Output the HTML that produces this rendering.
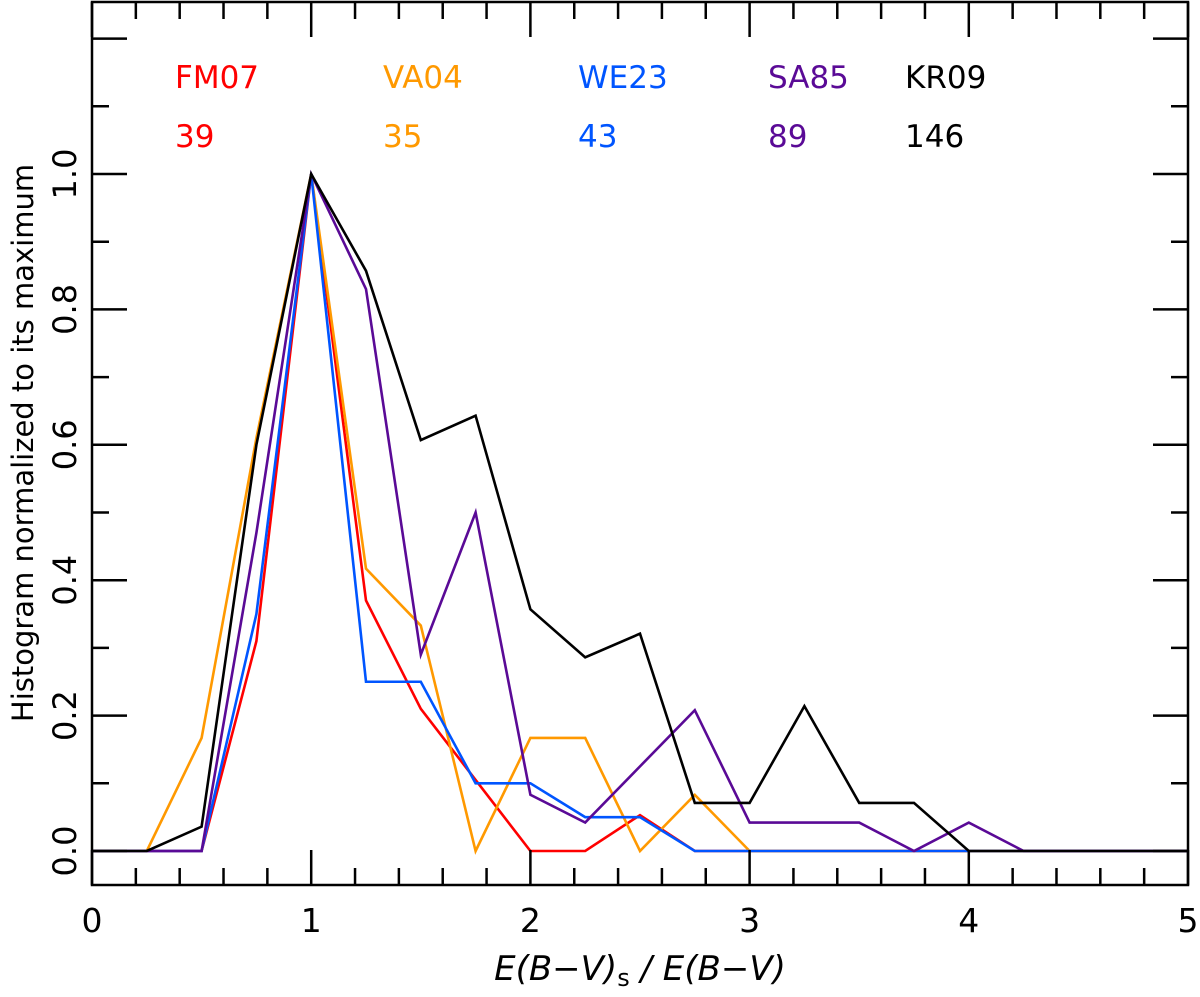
<!DOCTYPE html>
<html><head><meta charset="utf-8"><style>
body{margin:0;background:#fff}
svg{display:block}
text{font-family:"DejaVu Sans","Liberation Sans",sans-serif}
</style></head><body>
<svg id="chart" width="1200" height="997" viewBox="0 0 1200 997"></svg>
<script>
const xs = [0,0.25,0.5,0.75,1,1.25,1.5,1.75,2,2.25,2.5,2.75,3,3.25,3.5,3.75,4,4.25,4.5,4.75,5];
const fm07 = [0,0,0,0.31,1,0.37,0.21,0.105,0,0,0.053,0,0,0,0,0,0,0,0,0,0];
const va04 = [0,0,0.167,0.61,1,0.417,0.333,0,0.167,0.167,0,0.083,0,0,0,0,0,0,0,0,0];
const we23 = [0,0,0,0.35,1,0.25,0.25,0.1,0.1,0.05,0.05,0,0,0,0,0,0,0,0,0,0];
const sa85 = [0,0,0,0.47,1,0.83,0.29,0.5,0.083,0.042,0.125,0.208,0.042,0.042,0.042,0,0.042,0,0,0,0];
const kr09 = [0,0,0.036,0.6,1,0.857,0.607,0.643,0.357,0.286,0.321,0.071,0.071,0.214,0.071,0.071,0,0,0,0,0];
const seriesNames = ["FM07","VA04","WE23","SA85","KR09"];
const seriesCounts = ["39","35","43","89","146"];
const xTickLabels = ["0","1","2","3","4","5"];
const yTickLabels = ["0.0","0.2","0.4","0.6","0.8","1.0"];

const NS="http://www.w3.org/2000/svg";
const svg=document.getElementById('chart');
const L=92,R=1188,T=2,B=885;
const X=v=>L+(v/5)*(R-L);
const Y=v=>851-v*677;
function mk(tag,attrs,parent){const e=document.createElementNS(NS,tag);for(const k in attrs)e.setAttribute(k,attrs[k]);(parent||svg).appendChild(e);return e;}
const colors=["#ff0000","#ff9900","#0055ff","#5a0a96","#000000"];
const data=[fm07,va04,we23,sa85,kr09];
const seriesLayer=mk('g',{});


data.forEach((d,i)=>{
  const p=mk('polyline',{points:d.map((v,j)=>X(xs[j])+','+Y(v)).join(' '),fill:'none',stroke:colors[i],'stroke-width':2.6,'stroke-linejoin':'miter'},seriesLayer);
  
  
});
const ax=mk('g',{stroke:'#000','stroke-width':2.5,fill:'none'});


mk('rect',{x:L,y:T,width:R-L,height:B-T},ax);
for(let i=0;i<=25;i++){const v=i*0.2,x=X(v),len=(i%5===0)?35:17;
  mk('line',{x1:x,y1:B,x2:x,y2:B-len},ax);mk('line',{x1:x,y1:T,x2:x,y2:T+len},ax);}
for(let i=0;i<=12;i++){const v=i*0.1,y=Y(v),len=(i%2===0)?35:17;if(y<T)continue;
  mk('line',{x1:L,y1:y,x2:L+len,y2:y},ax);mk('line',{x1:R,y1:y,x2:R-len,y2:y},ax);}
xTickLabels.forEach((t,i)=>{const e=mk('text',{x:X(i),y:932,'font-size':33,'text-anchor':'middle'});e.textContent=t;
  });
yTickLabels.forEach((t,i)=>{const y=Y(i*0.2);const e=mk('text',{x:0,y:0,'font-size':32,'text-anchor':'middle',transform:`translate(76,${y}) rotate(-90)`});e.textContent=t;
  });
const yt=mk('text',{x:0,y:0,'font-size':29,'text-anchor':'middle',transform:`translate(33,443) rotate(-90)`});
yt.textContent='Histogram normalized to its maximum';

const xt=mk('text',{x:640,y:980,'font-size':34,'text-anchor':'middle','font-style':'italic'});
xt.innerHTML='E(B−V)<tspan font-style="normal" font-size="24" dy="6">s</tspan><tspan dy="-6"> / E(B−V)</tspan>';

const lx=[175,383,578,768,905];
seriesNames.forEach((n,i)=>{
  const a=mk('text',{x:lx[i],y:88,'font-size':31,fill:colors[i]});a.textContent=n;
  
  const b=mk('text',{x:lx[i],y:147,'font-size':31,fill:colors[i]});b.textContent=seriesCounts[i];
  
});
</script>
</body></html>
